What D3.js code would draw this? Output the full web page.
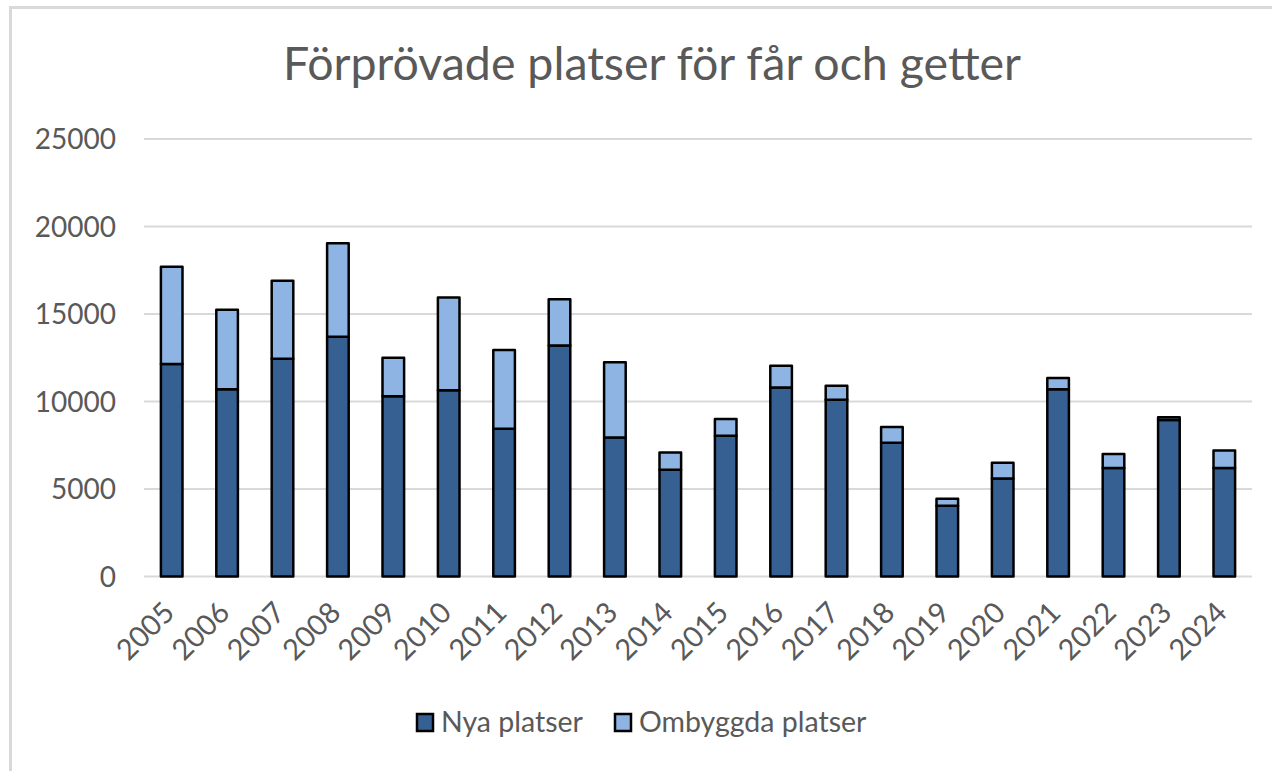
<!DOCTYPE html>
<html>
<head>
<meta charset="utf-8">
<script src="https://cdn.jsdelivr.net/npm/d3@7"></script>
<style>
	body { margin: 0; background: #fff; }
	svg text { font-family: Lato, "Open Sans", sans-serif; fill: #595959; }
</style>
</head>
<body>
<svg id="chart" width="1272" height="771"></svg>
<script>
// år och värden
var years = ["2005", "2006", "2007", "2008", "2009", "2010", "2011", "2012", "2013", "2014",
	"2015", "2016", "2017", "2018", "2019", "2020", "2021", "2022", "2023", "2024"];
var nya = [12150, 10700, 12450, 13700, 10300, 10650, 8450, 13200, 7950, 6100,
	8050, 10800, 10100, 7650, 4050, 5600, 10700, 6200, 8950, 6200];
var ombyggda = [5550, 4550, 4450, 5350, 2200, 5300, 4500, 2650, 4300, 980,
	950, 1250, 800, 900, 400, 900, 650, 800, 150, 1000];
var yTicks = [0, 5000, 10000, 15000, 20000, 25000];
var seriesNames = ["Nya platser", "Ombyggda platser"];
var colors = ["#366092", "#8db4e2"];

var svg = d3.select("#chart");

// ram runt diagrammet
svg.append("rect")
	.attr("x", 10.5)
	.attr("y", 7.5)
	.attr("width", 1300)
	.attr("height", 800)
	.attr("fill", "none")
	.attr("stroke", "#d9d9d9")
	.attr("stroke-width", 3);

svg.append("text")
	.attr("x", 652)
	.attr("y", 80)
	.attr("text-anchor", "middle")
	.style("font-size", "46.5px")
	.text("Förprövade platser för får och getter");

var x = d3.scaleBand()
	.domain(years)
	.range([144, 1252])
	.paddingInner(0.61)
	.paddingOuter(0.305);

var y = d3.scaleLinear()
	.domain([0, 25000])
	.range([576.5, 139]);

//rutnät
svg.append("g")
	.selectAll("line")
	.data(yTicks)
	.join("line")
	.attr("x1", 144)
	.attr("x2", 1252)
	.attr("y1", function(d) { return y(d); })
	.attr("y2", function(d) { return y(d); })
	.attr("stroke", "#d9d9d9")
	.attr("stroke-width", 2);

//y-axel
svg.append("g")
	.selectAll("text")
	.data(yTicks)
	.join("text")
	.attr("x", 116)
	.attr("y", function(d) { return y(d); })
	.attr("dy", "0.36em")
	.attr("text-anchor", "end")
	.style("font-size", "28px")
	.text(function(d) { return d; });

// staplar
var table = years.map(function(yr, i) {
	return { year: yr, nya: nya[i], ombyggda: ombyggda[i] };
});
var stack = d3.stack().keys(["nya", "ombyggda"])(table);

svg.append("g")
	.selectAll("g")
	.data(stack)
	.join("g")
	.attr("fill", function(d, i) { return colors[i]; })
	.selectAll("rect")
	.data(function(d) { return d; })
	.join("rect")
	.attr("x", function(d) { return x(d.data.year); })
	.attr("y", function(d) { return y(d[1]); })
	.attr("width", x.bandwidth())
	.attr("height", function(d) { return y(d[0]) - y(d[1]); })
	.attr("stroke", "#000")
	.attr("stroke-width", 2.5)
	.attr("stroke-linejoin", "round");

//x-axel
svg.append("g")
	.selectAll("text")
	.data(years)
	.join("text")
	.attr("transform", function(d) {
		return "translate(" + (x(d) + x.bandwidth() / 2 - 3) + ",607) rotate(-45)";
	})
	.attr("text-anchor", "end")
	.attr("dy", "0.36em")
	.style("font-size", "29px")
	.text(function(d) { return d; });

// legend
var legendX = [417, 615];
var legend = svg.append("g")
	.selectAll("g")
	.data(seriesNames)
	.join("g")
	.attr("transform", function(d, i) { return "translate(" + legendX[i] + ",714)"; });

legend.append("rect")
	.attr("width", 16)
	.attr("height", 17)
	.attr("fill", function(d, i) { return colors[i]; })
	.attr("stroke", "#000")
	.attr("stroke-width", 2.5);

legend.append("text")
	.attr("x", 24)
	.attr("y", 18)
	.style("font-size", "28.5px")
	.text(function(d) { return d; });
</script>
</body>
</html>
